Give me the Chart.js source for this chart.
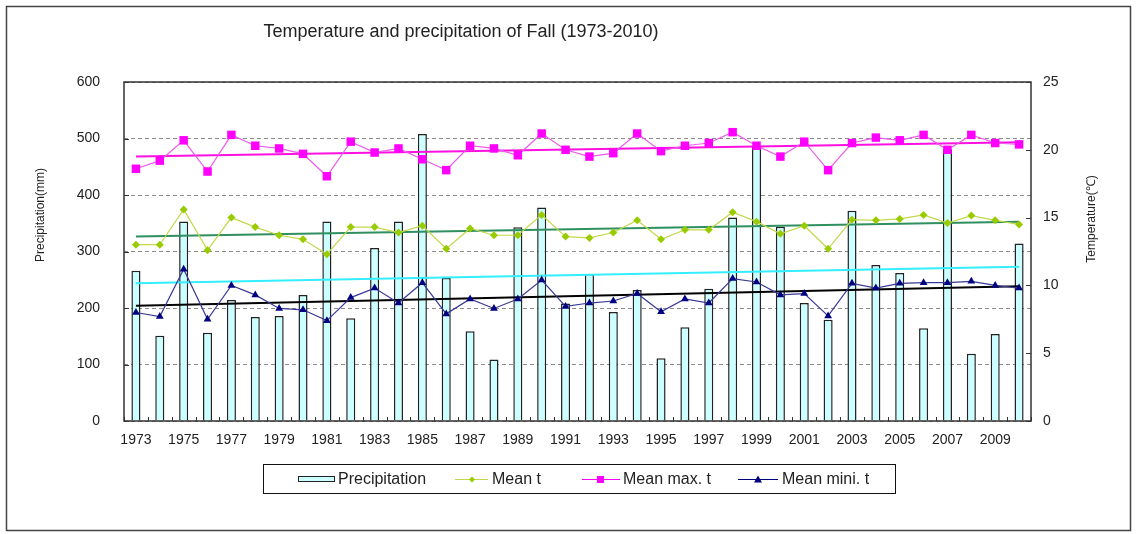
<!DOCTYPE html>
<html><head><meta charset="utf-8">
<script src="https://cdn.jsdelivr.net/npm/chart.js@4.4.0/dist/chart.umd.min.js"></script>
<style>html,body{margin:0;padding:0;background:#fff;}canvas{display:block;}</style>
</head><body>
<canvas id="c" width="1137" height="534"></canvas>
<script>
// ---- data ----
const years = ['1973','1974','1975','1976','1977','1978','1979','1980','1981','1982','1983','1984','1985',
  '1986','1987','1988','1989','1990','1991','1992','1993','1994','1995','1996','1997',
  '1998','1999','2000','2001','2002','2003','2004','2005','2006','2007','2008','2009','2010'];
const precipitation = [266,151,353,156,214,184,186,223,353,182,306,353,508,
  253,159,109,343,378,208,260,193,232,111,166,234,
  360,487,344,209,179,372,276,262,164,481,119,154,314];
const meanT = [13.0,13.0,15.6,12.6,15.0,14.3,13.7,13.4,12.3,14.3,14.3,13.9,14.4,
  12.7,14.2,13.7,13.7,15.2,13.6,13.5,13.9,14.8,13.4,14.1,14.1,
  15.4,14.7,13.8,14.4,12.7,14.85,14.8,14.9,15.2,14.6,15.15,14.8,14.5];
const meanMaxT = [18.6,19.2,20.7,18.4,21.1,20.3,20.1,19.7,18.05,20.6,19.8,20.1,19.3,
  18.5,20.3,20.1,19.6,21.2,20.0,19.5,19.75,21.2,19.9,20.3,20.5,
  21.3,20.3,19.5,20.6,18.5,20.5,20.9,20.7,21.1,20.0,21.1,20.5,20.4];
const meanMinT = [8.0,7.7,11.2,7.5,10.0,9.3,8.3,8.2,7.4,9.1,9.8,8.7,10.2,
  7.9,9.0,8.3,9.0,10.4,8.45,8.7,8.85,9.4,8.05,9.0,8.7,
  10.5,10.25,9.3,9.4,7.75,10.15,9.8,10.15,10.2,10.2,10.3,10.0,9.8];
// trend line end values (first year, last year)
const precipTrendEnds = [244, 273];
const meanTrendEnds = [13.6, 14.7];
const maxTrendEnds = [19.5, 20.55];
const minTrendEnds = [8.5, 9.93];
const leftTicks = [0,100,200,300,400,500,600];
const rightTicks = [0,5,10,15,20,25];

const titleText = 'Temperature and precipitation of Fall (1973-2010)';
const leftTitle = 'Precipitation(mm)';
const rightTitle = 'Temperature(\u2103)';

const FONT = "'Liberation Sans', Arial, sans-serif";
const n = years.length;
function trend(ends){ const a = new Array(n).fill(null); a[0] = ends[0]; a[n-1] = ends[1]; return a; }

const C = {
  bar:'#ccffff', barBorder:'#222222',
  mean:'#99cc00', meanLine:'#c3d84c',
  max:'#ff00ff', maxLine:'#ec5aec',
  min:'#000080', minLine:'#3a3a96',
  tMean:'#2f8f5f', tMax:'#ff10e0', tPre:'#33eeff', tMin:'#000000'
};

const decor = {
  id:'decor',
  beforeDraw(chart){
    const ctx = chart.ctx;
    ctx.save();
    ctx.fillStyle = '#fff'; ctx.fillRect(0,0,chart.width,chart.height);
    ctx.strokeStyle = '#444'; ctx.lineWidth = 1.5;
    ctx.strokeRect(6.5,6.5,1124,524);
    ctx.restore();
  },
  afterDraw(chart){
    const {ctx, chartArea:a, scales} = chart;
    ctx.save();
    // plot frame
    ctx.strokeStyle = '#333'; ctx.lineWidth = 1.5;
    ctx.strokeRect(a.left, a.top, a.right-a.left, a.bottom-a.top);
    // inward tick marks
    ctx.lineWidth = 1; ctx.beginPath();
    const xs = scales.x;
    const half = (xs.getPixelForValue(1) - xs.getPixelForValue(0)) / 2;
    for (let i = 0; i <= n; i++) {
      const x = Math.round(xs.getPixelForValue(Math.min(i, n-1)) + (i < n ? -half : half)) + 0.5;
      ctx.moveTo(x, a.bottom); ctx.lineTo(x, a.bottom - 4);
    }
    scales.y.ticks.forEach(t => { const y = Math.round(scales.y.getPixelForValue(t.value)) + 0.5; ctx.moveTo(a.left, y); ctx.lineTo(a.left + 5, y); });
    scales.y1.ticks.forEach(t => { const y = Math.round(scales.y1.getPixelForValue(t.value)) + 0.5; ctx.moveTo(a.right, y); ctx.lineTo(a.right - 5, y); });
    ctx.stroke();

    // title
    ctx.fillStyle = '#222'; ctx.textBaseline = 'middle'; ctx.textAlign = 'center';
    ctx.font = '18px ' + FONT;
    ctx.fillText(titleText, 461, 32);
    // axis titles
    ctx.font = '12px ' + FONT;
    ctx.save(); ctx.translate(41, 215); ctx.rotate(-Math.PI/2); ctx.fillText(leftTitle, 0, 0); ctx.restore();
    ctx.save(); ctx.translate(1092, 219); ctx.rotate(-Math.PI/2); ctx.fillText(rightTitle, 0, 0); ctx.restore();

    // legend
    ctx.strokeStyle = '#111'; ctx.lineWidth = 1;
    ctx.strokeRect(263.5, 464.5, 632, 29);
    const ly = 479.5;
    ctx.font = '16px ' + FONT; ctx.textAlign = 'left'; ctx.fillStyle = '#222';
    // precipitation
    ctx.fillStyle = C.bar; ctx.fillRect(298.5, 476.5, 36, 5);
    ctx.strokeStyle = C.barBorder; ctx.strokeRect(298.5, 476.5, 36, 5);
    ctx.fillStyle = '#222'; ctx.fillText('Precipitation', 338, ly);
    // mean t
    ctx.strokeStyle = C.meanLine; ctx.beginPath(); ctx.moveTo(455, ly); ctx.lineTo(488, ly); ctx.stroke();
    ctx.fillStyle = C.mean; ctx.beginPath(); ctx.moveTo(472, ly-3); ctx.lineTo(475, ly); ctx.lineTo(472, ly+3); ctx.lineTo(469, ly); ctx.closePath(); ctx.fill();
    ctx.fillStyle = '#222'; ctx.fillText('Mean t', 492, ly);
    // mean max
    ctx.strokeStyle = C.max; ctx.beginPath(); ctx.moveTo(582, ly); ctx.lineTo(620, ly); ctx.stroke();
    ctx.fillStyle = C.max; ctx.fillRect(597, ly-3.5, 7, 7);
    ctx.fillStyle = '#222'; ctx.fillText('Mean max. t', 623, ly);
    // mean min
    ctx.strokeStyle = C.min; ctx.beginPath(); ctx.moveTo(738, ly); ctx.lineTo(778, ly); ctx.stroke();
    ctx.fillStyle = C.min; ctx.beginPath(); ctx.moveTo(758, ly-4); ctx.lineTo(762, ly+3); ctx.lineTo(754, ly+3); ctx.closePath(); ctx.fill();
    ctx.fillStyle = '#222'; ctx.fillText('Mean mini. t', 782, ly);
    ctx.restore();
  }
};

const tickFont = {family: FONT, size: 14};

new Chart(document.getElementById('c'), {
  type: 'bar',
  data: {
    labels: years,
    datasets: [
      {type:'line', label:'Mean max. t', data: meanMaxT, yAxisID:'y1', order:1,
       borderColor: C.maxLine, borderWidth:1.2, tension:0,
       pointStyle:'rect', pointRadius:6, pointBackgroundColor:C.max, pointBorderColor:C.max, pointBorderWidth:0},
      {type:'line', label:'Mean t', data: meanT, yAxisID:'y1', order:1,
       borderColor: C.meanLine, borderWidth:1.2, tension:0,
       pointStyle:'rectRot', pointRadius:4, pointBackgroundColor:C.mean, pointBorderColor:C.mean, pointBorderWidth:0},
      {type:'line', label:'Mean mini. t', data: meanMinT, yAxisID:'y1', order:1,
       borderColor: C.minLine, borderWidth:1.2, tension:0,
       pointStyle:'triangle', pointRadius:4.5, pointBackgroundColor:C.min, pointBorderColor:C.min, pointBorderWidth:0},
      {type:'line', label:'Mean max. t trend', data: trend(maxTrendEnds), yAxisID:'y1', order:2,
       borderColor:C.tMax, borderWidth:2, pointRadius:0, spanGaps:true},
      {type:'line', label:'Mean t trend', data: trend(meanTrendEnds), yAxisID:'y1', order:2,
       borderColor:C.tMean, borderWidth:2, pointRadius:0, spanGaps:true},
      {type:'line', label:'Precipitation trend', data: trend(precipTrendEnds), yAxisID:'y', order:2,
       borderColor:C.tPre, borderWidth:2, pointRadius:0, spanGaps:true},
      {type:'line', label:'Mean mini. t trend', data: trend(minTrendEnds), yAxisID:'y1', order:2,
       borderColor:C.tMin, borderWidth:2, pointRadius:0, spanGaps:true},
      {type:'bar', label:'Precipitation', data: precipitation, yAxisID:'y', order:3,
       backgroundColor:C.bar, borderColor:C.barBorder, borderWidth:1.5,
       barPercentage:0.38, categoryPercentage:1}
    ]
  },
  options: {
    responsive:false, animation:false, devicePixelRatio:1,
    layout:{padding:{top:82, bottom:83, left:0, right:0}},
    plugins:{legend:{display:false}, title:{display:false}, tooltip:{enabled:false}},
    scales:{
      x:{offset:true, grid:{display:false, drawTicks:false}, border:{display:false},
         ticks:{autoSkip:false, maxRotation:0, minRotation:0, padding:11, font:tickFont, color:'#222',
                callback:(v,i)=> i % 2 === 0 ? years[i] : ''},
         afterFit:s=>{s.height = 30;}},
      y:{position:'left', min:leftTicks[0], max:leftTicks[leftTicks.length-1],
         afterBuildTicks:s=>{s.ticks = leftTicks.map(v=>({value:v}));},
         ticks:{padding:24, font:tickFont, color:'#222'},
         grid:{color:'#8c8c8c', lineWidth:1, drawTicks:false},
         border:{display:false, dash:[4,3]},
         afterFit:s=>{s.width = 124;}},
      y1:{position:'right', min:rightTicks[0], max:rightTicks[rightTicks.length-1],
         afterBuildTicks:s=>{s.ticks = rightTicks.map(v=>({value:v}));},
         ticks:{padding:12, font:tickFont, color:'#222'},
         grid:{display:false, drawTicks:false}, border:{display:false},
         afterFit:s=>{s.width = 106;}}
    }
  },
  plugins:[decor]
});
</script>
</body></html>
